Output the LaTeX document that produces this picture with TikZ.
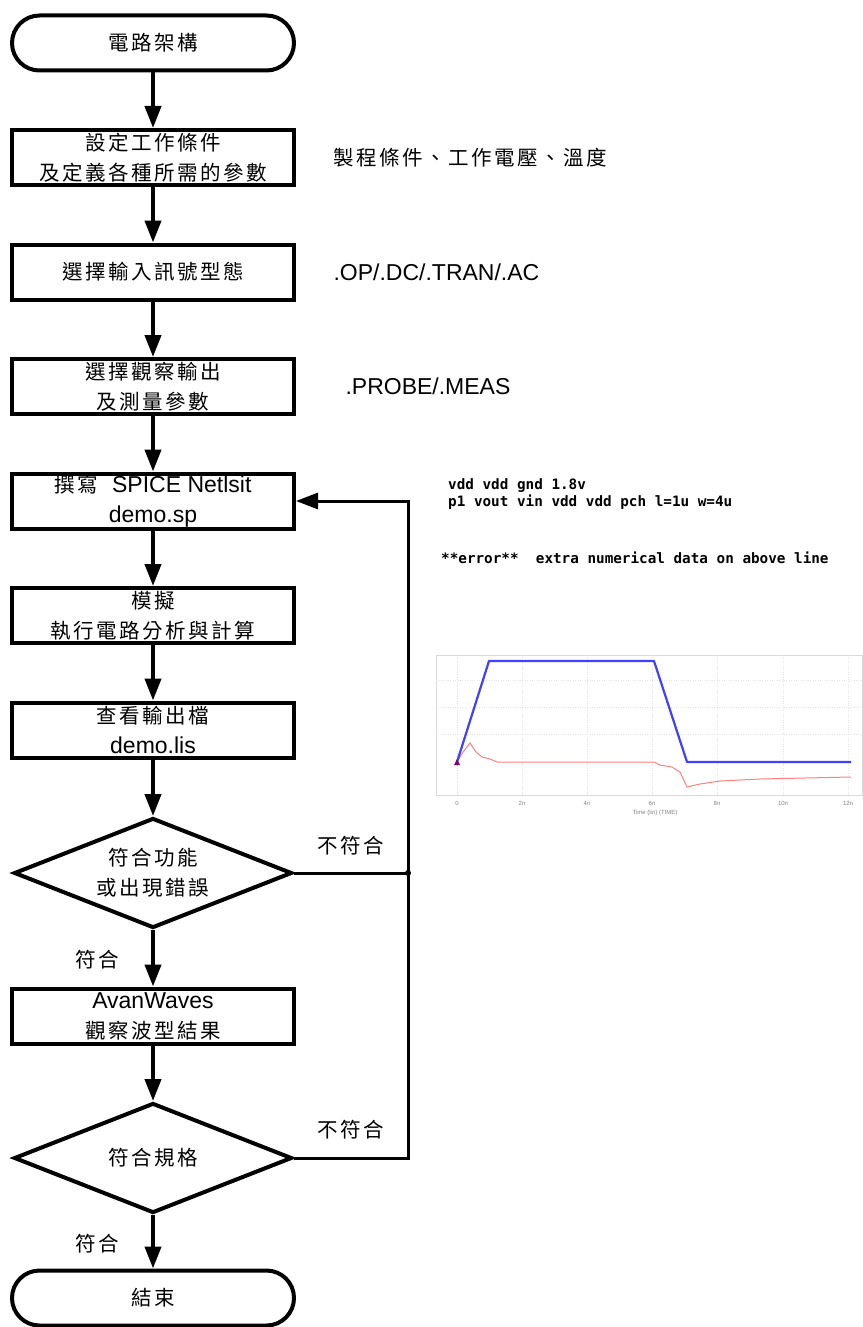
\documentclass[tikz,border=0pt]{standalone}
\usepackage{fontspec}
\setmainfont{Liberation Sans}
\newfontfamily\cjk[LetterSpace=12]{Noto Sans CJK TC}
\newfontfamily\netfont{DejaVu Sans Mono}
\usetikzlibrary{shapes,arrows.meta,positioning}
\newcommand\lat[1]{{\rmfamily\fontsize{23}{30}\selectfont #1}}

\begin{document}
\begin{tikzpicture}[x=1pt, y=-1pt, node distance=114.5pt,
    zh/.style={font=\cjk\fontsize{20.5}{30}\selectfont},
    box/.style={zh, draw, line width=4pt, minimum width=282pt, minimum height=55pt, inner sep=0pt, align=center},
    term/.style={box, rounded corners=27.5pt},
    decide/.style={zh, draw, diamond, aspect=2.5, line width=4pt, minimum width=278pt, minimum height=110pt, inner sep=0pt, align=center},
    flow/.style={-{Triangle[width=16pt,length=22pt]}, line width=4pt},
    back/.style={line width=3pt}]
    \useasboundingbox (0,0) rectangle (862,1327);

    % main flow
    \node (start) [term] at (153,43) {電路架構};
    \node (cond) [box, below of=start] {設定工作條件\\及定義各種所需的參數};
    \node (input) [box, below of=cond] {選擇輸入訊號型態};
    \node (probe) [box, below of=input] {選擇觀察輸出\\及測量參數};
    \node (net) [box, below of=probe] {撰寫\ \ \lat{SPICE Netlsit}\\\lat{demo.sp}};
    \node (sim) [box, below of=net] {模擬\\執行電路分析與計算};
    \node (lis) [box, below of=sim] {查看輸出檔\\\lat{demo.lis}};
    \node (func) [decide, below of=lis, node distance=143pt] {符合功能\\或出現錯誤};
    \node (wave) [box, below of=func, node distance=143pt] {\lat{AvanWaves}\\觀察波型結果};
    \node (spec) [decide, below of=wave, node distance=142pt] {符合規格};
    \node (stop) [term, below of=spec, node distance=140pt] {結束};

    \foreach \a/\b in {start/cond, cond/input, input/probe, probe/net, net/sim, sim/lis, lis/func, func/wave, wave/spec, spec/stop}
        \draw[flow] (\a) -- (\b);

    % loop back
    \coordinate (j1) at (408,873);
    \draw[back] (func.east) -- (j1);
    \draw[back] (spec.east) -| (j1);
    \draw[back, -{Triangle[width=16pt,length=22pt]}] (j1) |- (net.east);
    \fill (j1) circle (3pt);

    \node (no1) [zh] at (351,846) {不符合};
    \node (no2) [zh] at (351,1130) {不符合};
    \node (yes1) [zh] at (97,960) {符合};
    \node (yes2) [zh] at (97,1244) {符合};

    % notes
    \node (n1) [zh, right=34pt of cond] {製程條件、工作電壓、溫度};
    \node (n2) [font=\fontsize{23}{28}\selectfont, right=34pt of input] {.OP/.DC/.TRAN/.AC};
    \node (n3) [font=\fontsize{23}{28}\selectfont, right=46pt of probe] {.PROBE/.MEAS};

    \node (sp1) [anchor=west, inner sep=0pt, font=\netfont\bfseries\fontsize{14.3}{16}\selectfont] at (448,486) {vdd vdd gnd 1.8v};
    \node (sp2) [anchor=west, inner sep=0pt, font=\netfont\bfseries\fontsize{14.3}{16}\selectfont] at (448,502) {p1 vout vin vdd vdd pch l=1u w=4u};
    \node (err) [anchor=west, inner sep=0pt, font=\netfont\bfseries\fontsize{14.3}{16}\selectfont] at (441,558) {**error**\ \ extra numerical data on above line};

    % waveform
    \draw[gray!30] (436,655) rectangle (862,795);
    \foreach \x in {457,522,587,652,717,783,848}
        \draw[gray!20, dotted] (\x,655) -- (\x,795);
    \foreach \y in {680,707,734}
        \draw[gray!20, dotted] (436,\y) -- (862,\y);
    \foreach \x/\t in {457/0,522/2n,587/4n,652/6n,717/8n,783/10n,848/12n}
        \node[gray, font=\fontsize{6}{7}\selectfont] at (\x,803) {\t};
    \node[gray, font=\fontsize{6}{7}\selectfont] at (655,813) {Time (lin) (TIME)};
    \draw[red!50, line width=1pt] (457,762) -- (463,752) -- (470,743) -- (476,752) -- (482,757) -- (490,759) -- (497,762) -- (654,762) -- (660,765) -- (672,767) -- (680,772) -- (687,787) -- (700,784) -- (720,781) -- (760,779) -- (851,777);
    \draw[blue!75, line width=2.2pt, line join=round] (457,762) -- (489,661) -- (654,661) -- (687,762) -- (851,762);
    \fill[violet] (454,765) -- (460,765) -- (457,759) -- cycle;
\end{tikzpicture}
\end{document}
